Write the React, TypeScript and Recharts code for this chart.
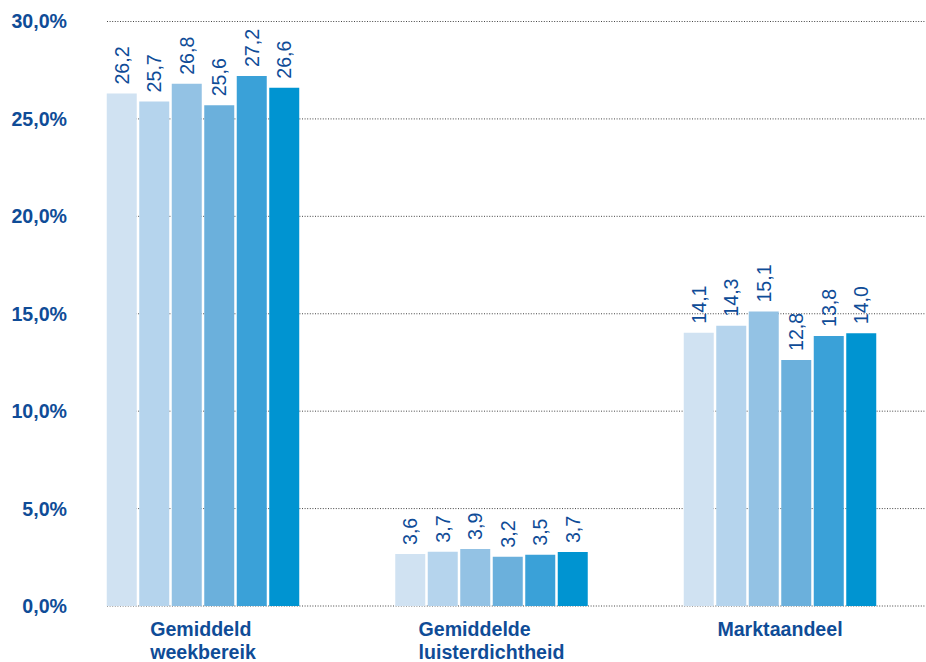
import React from 'react';
import { BarChart, Bar, XAxis, YAxis, CartesianGrid, LabelList } from 'recharts';

const categories = ['Gemiddeld weekbereik', 'Gemiddelde luisterdichtheid', 'Marktaandeel'];
const categoryLines: string[][] = [['Gemiddeld', 'weekbereik'], ['Gemiddelde', 'luisterdichtheid'], ['Marktaandeel']];

// bar heights as drawn (percent)
const series1 = [26.3, 2.67, 14.03];
const series2 = [25.9, 2.79, 14.39];
const series3 = [26.8, 2.93, 15.11];
const series4 = [25.7, 2.53, 12.63];
const series5 = [27.2, 2.63, 13.86];
const series6 = [26.6, 2.77, 14.0];

// printed value labels
const labels1 = ['26,2', '3,6', '14,1'];
const labels2 = ['25,7', '3,7', '14,3'];
const labels3 = ['26,8', '3,9', '15,1'];
const labels4 = ['25,6', '3,2', '12,8'];
const labels5 = ['27,2', '3,5', '13,8'];
const labels6 = ['26,6', '3,7', '14,0'];

const yTicks = [0, 5, 10, 15, 20, 25, 30];

const seriesValues = [series1, series2, series3, series4, series5, series6];
const seriesLabels = [labels1, labels2, labels3, labels4, labels5, labels6];
const colors = ['#d0e2f2', '#b5d4ed', '#93c2e4', '#6bb0dc', '#3aa1d8', '#0094d1'];

const TEXT = '#0f4c97';
const FONT = "'Liberation Sans', Arial, Helvetica, sans-serif";
const FS = 19.6;

const data = categories.map((c, i) => {
  const row: any = { name: c };
  seriesValues.forEach((s, k) => {
    row['v' + k] = s[i];
    row['l' + k] = seriesLabels[k][i];
  });
  return row;
});

let measureCtx: CanvasRenderingContext2D | null = null;
function measure(t: string): number {
  if (!measureCtx) {
    const c = document.createElement('canvas');
    measureCtx = c.getContext('2d');
  }
  if (!measureCtx) return t.length * FS * 0.6;
  measureCtx.font = `bold ${FS}px 'Liberation Sans'`;
  return measureCtx.measureText(t).width;
}

const CatTick = (props: any) => {
  const { x, y, payload } = props;
  const idx = categories.indexOf(payload.value);
  const lines = categoryLines[idx] || [payload.value];
  const w = Math.max(...lines.map(measure));
  const x0 = x - w / 2;
  return (
    <g>
      {lines.map((ln, i) => (
        <text key={i} x={x0} y={y + 30 + i * 22.5} textAnchor="start" fill={TEXT}
          fontFamily={FONT} fontWeight="bold" fontSize={FS}>
          {ln}
        </text>
      ))}
    </g>
  );
};

const ValueLabel = (props: any) => {
  const { x, y, width, value } = props;
  const cx = x + width / 2;
  const y0 = y - 9;
  return (
    <text x={cx} y={y0} dy="0.36em" textAnchor="start" transform={`rotate(-90 ${cx} ${y0})`}
      fill={TEXT} fontFamily={FONT} fontSize={FS}>
      {value}
    </text>
  );
};

const fmt = (v: number) => v.toFixed(1).replace('.', ',') + '%';

export default function App() {
  return (
    <div style={{ position: 'absolute', left: 0, top: 0, background: '#fff' }}>
      <BarChart width={926} height={662} data={data}
        margin={{ top: 21.5, right: 0.5, bottom: 0, left: 7 }}
        barSize={30} barGap={2.5}>
        <CartesianGrid vertical={false} stroke="#444" strokeDasharray="1 1.6" strokeWidth={1} />
        <XAxis dataKey="name" axisLine={false} tickLine={false} tickSize={0} tickMargin={0}
          height={56} interval={0} padding={{ left: -48.25, right: 1.25 }} tick={<CatTick />} />
        <YAxis domain={[0, 30]} ticks={yTicks} axisLine={false} tickLine={false} tickSize={0}
          tickMargin={40} width={100} tickFormatter={fmt}
          tick={{ fill: TEXT, fontFamily: FONT, fontWeight: 'bold', fontSize: FS }} />
        {colors.map((c, k) => (
          <Bar key={k} dataKey={'v' + k} fill={c} isAnimationActive={false}>
            <LabelList dataKey={'l' + k} content={<ValueLabel />} />
          </Bar>
        ))}
      </BarChart>
    </div>
  );
}
